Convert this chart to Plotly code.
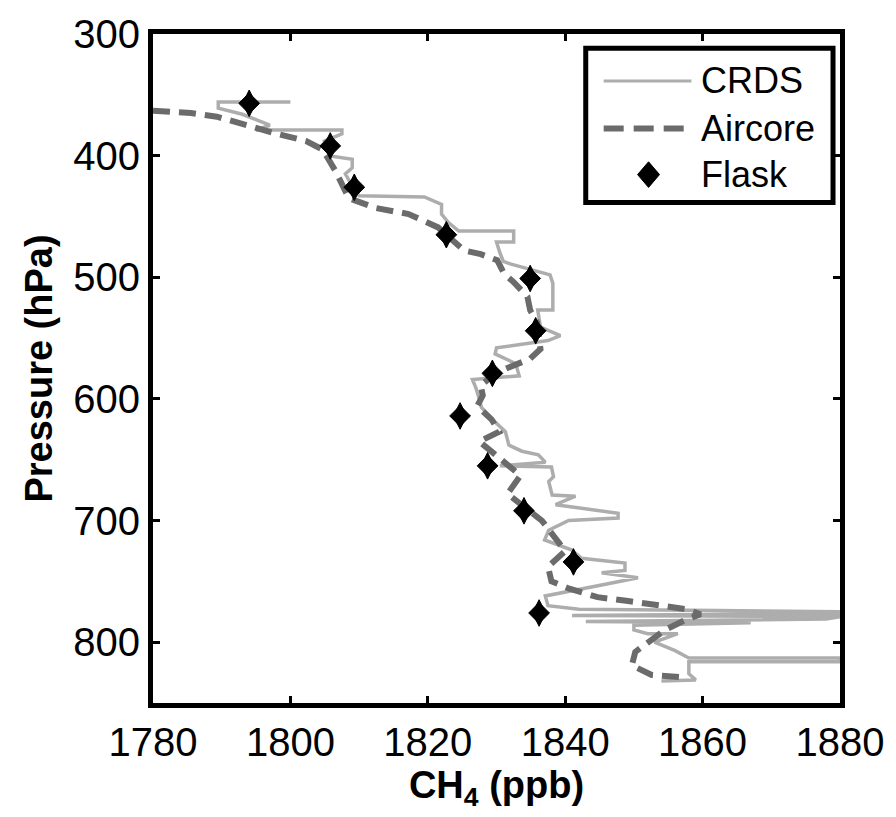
import plotly.graph_objects as go

# ---------------- data ----------------
crds_ch4 = [1800.0, 1789.5, 1789.5, 1793.0, 1797.0, 1795.0, 1807.5, 1807.5, 1805.0, 1806.0,
            1805.5, 1809.0, 1809.0, 1808.0, 1809.0, 1810.0, 1819.5, 1822.0, 1822.0, 1823.0,
            1824.5, 1832.5, 1832.5, 1830.0, 1830.5, 1831.0, 1832.0, 1837.8, 1838.2, 1838.2,
            1836.0, 1836.4, 1839.3, 1837.5, 1830.0, 1829.8, 1832.8, 1833.3, 1826.5, 1827.0,
            1827.5, 1827.8, 1829.8, 1831.3, 1831.8, 1833.7, 1836.1, 1837.1, 1830.5, 1838.0,
            1838.3, 1837.6, 1838.1, 1841.5, 1838.6, 1847.7, 1847.7, 1840.5, 1837.6, 1837.0,
            1840.9, 1842.4, 1848.7, 1848.7, 1845.3, 1850.6, 1845.3, 1837.1, 1837.5, 1842.0,
            1862.0, 1880.0, 1880.0, 1841.0, 1880.0, 1878.0, 1843.0, 1867.0, 1850.0, 1850.0,
            1852.0, 1856.4, 1853.0, 1856.0, 1858.0, 1880.0, 1880.0, 1858.0, 1858.0, 1859.0,
            1854.0]
crds_p = [356, 356, 361, 366, 375, 379, 379, 382, 388, 395,
          400, 403, 410, 415, 425, 433, 434, 440, 448, 455,
          462, 462, 471, 471, 480, 487, 489, 498, 505, 527,
          527, 541, 548, 552, 558, 563, 571, 581, 584, 591,
          600, 607, 619, 627, 638, 643, 646, 652, 655, 656,
          664, 668, 679, 680, 687, 694, 698, 700, 708, 716,
          724, 731, 735, 741, 743, 747, 753, 762, 770, 773,
          774, 775, 776.5, 778, 779, 781, 783, 784, 786, 790,
          793, 793, 800, 807, 813, 813, 816, 816, 826, 831,
          832]

aircore_ch4 = [1780.0, 1785.5, 1789.3, 1794.0, 1798.0, 1802.3, 1804.7, 1806.6, 1808.5, 1812.4,
               1817.2, 1821.5, 1825.3, 1827.7, 1830.1, 1831.1, 1832.5, 1834.5, 1834.9, 1835.9,
               1836.4, 1834.9, 1832.5, 1830.1, 1827.7, 1828.0, 1827.2, 1829.3, 1830.4, 1827.5,
               1833.5, 1831.6, 1836.6, 1838.6, 1840.0, 1837.5, 1838.0, 1840.6, 1844.7, 1848.9,
               1853.5, 1857.8, 1859.7, 1857.4, 1854.5, 1852.1, 1850.2, 1849.7, 1852.6, 1857.5]
aircore_p = [363, 365, 368, 376, 382, 388, 395, 413, 435, 443,
             448, 459, 478, 481, 486, 497, 504, 516, 527, 537,
             559, 567, 572, 578, 589, 597, 606, 617, 627, 635,
             663, 678, 700, 714, 725, 738, 750, 756, 763, 766,
             770, 773, 777, 782, 790, 800, 808, 819, 827, 829]

flask_ch4 = [1794.0, 1805.8, 1809.3, 1822.7, 1834.9, 1835.7, 1829.4, 1824.7, 1828.7, 1834.0,
             1841.2, 1836.2]
flask_p = [357, 392, 426, 465, 501, 544, 579, 614, 655, 692, 734, 776]

x_ticks = [1780, 1800, 1820, 1840, 1860, 1880]
y_ticks = [300, 400, 500, 600, 700, 800]
series_names = ["CRDS", "Aircore", "Flask"]

# ---------------- layout helpers ----------------
W, H = 896, 817
L, R, T, B = 153, 54, 24, 114
PW, PH = W - L - R, H - T - B


def px(x):
    return (x - L) / PW


def py(y):
    return (H - B - y) / PH


FONT = "Liberation Sans, Arial, sans-serif"
CRDS_COLOR = "#adadad"
AIR_COLOR = "#6b6b6b"

fig = go.Figure()
fig.add_trace(go.Scatter(x=crds_ch4, y=crds_p, mode="lines", name=series_names[0],
                         line=dict(color=CRDS_COLOR, width=3.5), showlegend=False))
fig.add_trace(go.Scatter(x=aircore_ch4, y=aircore_p, mode="lines", name=series_names[1],
                         line=dict(color=AIR_COLOR, width=6, dash="17px,9px"), showlegend=False))
# flask markers: a tall diamond over a plain diamond gives the rounded, tall blob of the reference
fig.add_trace(go.Scatter(x=flask_ch4, y=flask_p, mode="markers", name=series_names[2],
                         marker=dict(symbol="diamond", size=16, color="black",
                                     line=dict(color="black", width=1)),
                         showlegend=False, hoverinfo="skip"))
fig.add_trace(go.Scatter(x=flask_ch4, y=flask_p, mode="markers", name=series_names[2],
                         marker=dict(symbol="diamond-tall", size=19, color="black",
                                     line=dict(color="black", width=1)),
                         showlegend=False))

# custom legend (box, samples, labels)
shapes = [
    dict(type="rect", xref="paper", yref="paper", x0=px(587), x1=px(835), y0=py(195), y1=py(38.5),
         line=dict(color="black", width=5), fillcolor="white", layer="above"),
    dict(type="line", xref="paper", yref="paper", x0=px(605), x1=px(693), y0=py(71.7), y1=py(71.7),
         line=dict(color=CRDS_COLOR, width=3), layer="above"),
    dict(type="line", xref="paper", yref="paper", x0=px(605), x1=px(693), y0=py(120), y1=py(120),
         line=dict(color=AIR_COLOR, width=6, dash="20px,10px"), layer="above"),
]
cx, cy, hw, hh = 650, 166.7, 11, 13
shapes.append(dict(type="path", xref="paper", yref="paper",
                   path=f"M {px(cx)},{py(cy - hh)} L {px(cx + hw)},{py(cy)} L {px(cx)},{py(cy + hh)} L {px(cx - hw)},{py(cy)} Z",
                   fillcolor="black", line=dict(color="black", width=1), layer="above"))

annotations = []
for name, row in zip(series_names, [71.7, 120, 166.7]):
    annotations.append(dict(text=name, xref="paper", yref="paper", x=px(701), y=py(row),
                            xanchor="left", yanchor="middle", showarrow=False,
                            font=dict(family=FONT, size=36, color="black")))

axis_common = dict(showline=True, linecolor="black", linewidth=5, mirror="ticks",
                   ticks="inside", ticklen=7, tickwidth=3, tickcolor="black",
                   showgrid=False, zeroline=False,
                   tickfont=dict(family=FONT, size=40, color="black"))

fig.update_layout(
    width=W, height=H,
    margin=dict(l=L, r=R, t=T, b=B, pad=0),
    paper_bgcolor="white", plot_bgcolor="white",
    showlegend=False,
    xaxis=dict(range=[1780, 1880], tickvals=x_ticks, ticktext=[str(v) for v in x_ticks],
               title=dict(text="<b>CH<sub>4</sub> (ppb)</b>", standoff=2,
                          font=dict(family=FONT, size=38, color="black")),
               ticklabelstandoff=0, **axis_common),
    yaxis=dict(range=[850, 300], tickvals=y_ticks, ticktext=[str(v) for v in y_ticks],
               title=dict(text="<b>Pressure (hPa)</b>", standoff=10,
                          font=dict(family=FONT, size=38, color="black")),
               ticklabelstandoff=0, **axis_common),
    shapes=shapes, annotations=annotations,
)

fig.write_html("out.html")
